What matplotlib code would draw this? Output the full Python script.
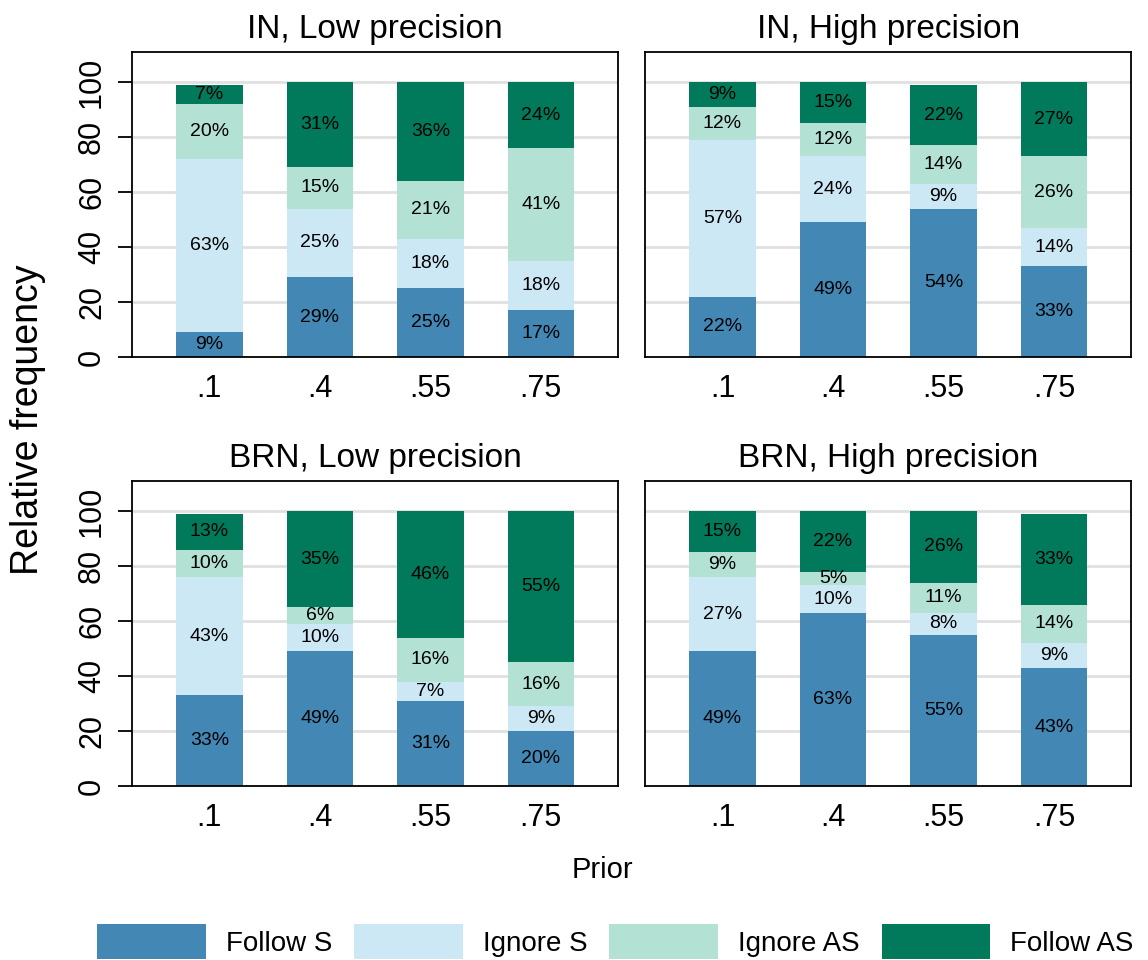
import matplotlib.pyplot as plt
from matplotlib.patches import Patch
import numpy as np

plt.rcParams['font.family'] = ['Liberation Sans', 'DejaVu Sans']

# Prior values on the x-axis
priors = [".1", ".4", ".55", ".75"]

# Behaviour categories, stacked bottom to top
categories = ["Follow S", "Ignore S", "Ignore AS", "Follow AS"]
colors = ["#4387b4", "#cde8f5", "#b3e2d4", "#007a5a"]

# Shares in percent, one row per category, one column per prior
in_low = [[9, 29, 25, 17],
          [63, 25, 18, 18],
          [20, 15, 21, 41],
          [7, 31, 36, 24]]
in_high = [[22, 49, 54, 33],
           [57, 24, 9, 14],
           [12, 12, 14, 26],
           [9, 15, 22, 27]]
brn_low = [[33, 49, 31, 20],
           [43, 10, 7, 9],
           [10, 6, 16, 16],
           [13, 35, 46, 55]]
brn_high = [[49, 63, 55, 43],
            [27, 10, 8, 9],
            [9, 5, 11, 14],
            [15, 22, 26, 33]]

panels = [("IN, Low precision", in_low),
          ("IN, High precision", in_high),
          ("BRN, Low precision", brn_low),
          ("BRN, High precision", brn_high)]

fig = plt.figure(figsize=(11.48, 9.6), dpi=100)

# axes rectangles (left, bottom, width, height) in figure fractions
lefts = [0.115, 0.562]
bottoms = [0.628, 0.181]
w, h = 0.4235, 0.318

x = np.arange(len(priors))
for i, (title, data) in enumerate(panels):
    col, row = i % 2, i // 2
    ax = fig.add_axes([lefts[col], bottoms[row], w, h])
    bottom = np.zeros(len(priors))
    for vals, color in zip(data, colors):
        vals = np.array(vals, dtype=float)
        ax.bar(x, vals, width=0.6, bottom=bottom, color=color,
               edgecolor='none', zorder=2)
        for xi, b, v in zip(x, bottom, vals):
            ax.text(xi, b + v / 2, f"{int(v)}%", ha='center', va='center',
                    fontsize=14, color='black', zorder=3)
        bottom += vals

    ax.set_xlim(-0.7, 3.7)
    ax.set_ylim(0, 111)
    ax.set_yticks(range(0, 101, 20))
    ax.yaxis.grid(True, color='#e0e0e0', linewidth=2, zorder=0)
    ax.set_axisbelow(True)
    ax.set_xticks(x)
    ax.set_xticklabels(priors, fontsize=22)
    ax.tick_params(axis='x', length=0, pad=12)
    for sp in ax.spines.values():
        sp.set_linewidth(1.3)
    if col == 0:
        ax.tick_params(axis='y', length=10, width=1.3, labelsize=22, pad=8)
        plt.setp(ax.get_yticklabels(), rotation=90, va='center')
    else:
        ax.tick_params(axis='y', length=0, labelleft=False)
    ax.set_title(title, fontsize=24, pad=10)

fig.text(0.024, 0.5625, "Relative frequency", rotation=90, ha='center',
         va='center', fontsize=27)
fig.text(0.525, 0.094, "Prior", ha='center', va='center', fontsize=21)

handles = [Patch(facecolor=c, edgecolor='none') for c in colors]
fig.legend(handles, categories, loc='lower center', ncol=4,
           bbox_to_anchor=(0.536, -0.022), frameon=False, fontsize=20,
           handlelength=3.9, handleheight=1.55, columnspacing=0.8,
           handletextpad=0.72, borderpad=0.3)

fig.savefig("out.png", dpi=100)
